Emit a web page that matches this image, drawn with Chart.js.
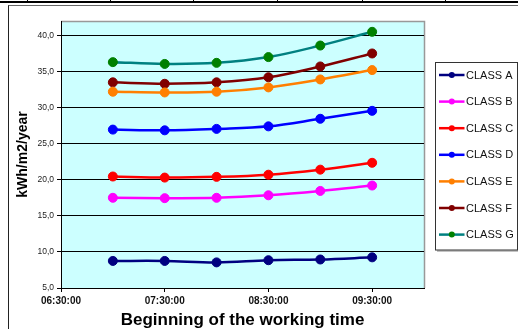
<!DOCTYPE html>
<html>
<head>
<meta charset="utf-8">
<script src="https://cdn.jsdelivr.net/npm/chart.js@4"></script>
<style>
  html, body { margin: 0; padding: 0; background: #fff; }
  #wrap { position: relative; width: 518px; height: 329px; overflow: hidden; }
  #topbar { position: absolute; left: 0; top: 1px; width: 518px; height: 2px; background: #000; }
  .sep { position: absolute; top: 0; width: 1px; height: 3px; background: #000; }
  #frame { position: absolute; left: 8px; top: 5px; width: 520px; height: 340px;
           border-left: 1px solid #222; border-top: 1px solid #666; box-sizing: border-box; }
  canvas { position: absolute; left: 0; top: 0; }
</style>
</head>
<body>
<div id="wrap">
  <div id="topbar"></div>
  <div class="sep" style="left:27px"></div>
  <div class="sep" style="left:110px"></div>
  <div class="sep" style="left:193px"></div>
  <div class="sep" style="left:277px"></div>
  <div class="sep" style="left:362px"></div>
  <div class="sep" style="left:445px"></div>
  <div id="frame"></div>
  <canvas id="chart" width="518" height="329"></canvas>
</div>
<script>
// Start times of the working day (x values)
const startTimes = ['07:00:00', '07:30:00', '08:00:00', '08:30:00', '09:00:00', '09:30:00'];
const xTickLabels = ['06:30:00', '07:30:00', '08:30:00', '09:30:00'];
const yTickValues = [5, 10, 15, 20, 25, 30, 35, 40];

// Energy demand per building class, kWh/m2/year
const classNames = ['CLASS A', 'CLASS B', 'CLASS C', 'CLASS D', 'CLASS E', 'CLASS F', 'CLASS G'];
const classA = [8.75, 8.75, 8.55, 8.85, 8.95, 9.25];
const classB = [17.5, 17.45, 17.5, 17.85, 18.45, 19.2];
const classC = [20.45, 20.3, 20.4, 20.7, 21.4, 22.35];
const classD = [26.95, 26.85, 27.05, 27.4, 28.45, 29.55];
const classE = [32.2, 32.1, 32.2, 32.8, 33.9, 35.2];
const classF = [33.5, 33.3, 33.5, 34.2, 35.7, 37.5];
const classG = [36.3, 36.05, 36.2, 37.0, 38.6, 40.5];

const lineColors = ['#000080', '#ff00ff', '#ff0000', '#0000ff', '#ff7f00', '#800000', '#008080'];
const markerColors = ['#000080', '#ff00ff', '#ff0000', '#0000ff', '#ff7f00', '#800000', '#008000'];

function toHours(t) {
  const p = t.split(':').map(Number);
  return p[0] + p[1] / 60 + (p[2] || 0) / 3600;
}

const seriesValues = [classA, classB, classC, classD, classE, classF, classG];
const xHours = startTimes.map(toHours);

const datasets = seriesValues.map((vals, i) => ({
  label: classNames[i],
  data: vals.map((v, j) => ({ x: xHours[j], y: v })),
  borderColor: lineColors[i],
  backgroundColor: markerColors[i],
  pointBackgroundColor: markerColors[i],
  pointBorderColor: markerColors[i],
  borderWidth: 2.5,
  pointRadius: 4.5,
  pointBorderWidth: 1,
  tension: 0.35,
  fill: false
}));

const FONT = "'Liberation Sans', Arial, sans-serif";

// Light cyan plot background with a grey frame on the top and right
const plotBackground = {
  id: 'plotBackground',
  beforeDraw(chart) {
    const { ctx, chartArea: a } = chart;
    ctx.save();
    ctx.fillStyle = '#ccffff';
    ctx.fillRect(a.left, a.top, a.right - a.left, a.bottom - a.top);
    ctx.strokeStyle = '#999';
    ctx.lineWidth = 1.5;
    ctx.beginPath();
    ctx.moveTo(a.left, a.top + 0.5);
    ctx.lineTo(a.right + 0.5, a.top + 0.5);
    ctx.lineTo(a.right + 0.5, a.bottom);
    ctx.stroke();
    ctx.restore();
  }
};

// Boxed legend on the right-hand side
const boxedLegend = {
  id: 'boxedLegend',
  afterDraw(chart) {
    const { ctx } = chart;
    const bx = 435.5, by = 62.5, bw = 82, bh = 187.5;
    ctx.save();
    ctx.fillStyle = '#fff';
    ctx.fillRect(bx, by, bw, bh);
    ctx.strokeStyle = '#888';
    ctx.lineWidth = 1;
    ctx.beginPath();
    ctx.moveTo(bx + 1.5, by + bh + 1);
    ctx.lineTo(bx + bw + 1, by + bh + 1);
    ctx.lineTo(bx + bw + 1, by + 1.5);
    ctx.stroke();
    ctx.strokeStyle = '#333';
    ctx.strokeRect(bx, by, bw, bh);
    chart.data.datasets.forEach((ds, i) => {
      const y = 75 + i * 26.6;
      ctx.strokeStyle = ds.borderColor;
      ctx.lineWidth = 2.5;
      ctx.beginPath();
      ctx.moveTo(439, y);
      ctx.lineTo(464.5, y);
      ctx.stroke();
      ctx.fillStyle = ds.pointBackgroundColor;
      ctx.beginPath();
      ctx.arc(451.8, y, 3, 0, Math.PI * 2);
      ctx.fill();
      ctx.fillStyle = '#111';
      ctx.font = '11px ' + FONT;
      ctx.textAlign = 'left';
      ctx.textBaseline = 'middle';
      ctx.fillText(ds.label, 466, y + 0.5);
    });
    ctx.restore();
  }
};

new Chart(document.getElementById('chart'), {
  type: 'line',
  data: { datasets },
  plugins: [plotBackground, boxedLegend],
  options: {
    responsive: false,
    animation: false,
    devicePixelRatio: 1,
    layout: { padding: { left: 0, top: 21, right: 94, bottom: 0 } },
    plugins: { legend: { display: false }, tooltip: { enabled: false } },
    scales: {
      x: {
        type: 'linear',
        min: toHours(xTickLabels[0]),
        max: 10,
        afterBuildTicks(scale) {
          scale.ticks = xTickLabels.map(t => ({ value: toHours(t) }));
        },
        afterFit(scale) { scale.height = 41; },
        ticks: {
          autoSkip: false,
          maxRotation: 0,
          padding: 3,
          color: '#111',
          font: { family: FONT, size: 10, weight: 'bold' },
          callback(value, index) { return xTickLabels[index]; }
        },
        grid: { drawOnChartArea: false, drawTicks: true, tickLength: 4, color: '#000' },
        border: { color: '#000', width: 1 },
        title: {
          display: true,
          text: 'Beginning of the working time',
          color: '#000',
          font: { family: FONT, size: 17, weight: 'bold', lineHeight: 1 },
          padding: { top: 0, bottom: 0.5 }
        }
      },
      y: {
        min: 5,
        max: 42,
        afterBuildTicks(scale) {
          scale.ticks = yTickValues.map(v => ({ value: v }));
        },
        afterFit(scale) { scale.width = 61; },
        ticks: {
          padding: 3,
          color: '#222',
          font: { family: FONT, size: 8.5 },
          callback(value) { return value.toFixed(1).replace('.', ','); }
        },
        grid: { color: '#000', lineWidth: 1, tickLength: 4 },
        border: { color: '#000', width: 1 },
        title: {
          display: true,
          text: 'kWh/m2/year',
          color: '#000',
          font: { family: FONT, size: 14, weight: 'bold', lineHeight: 1 },
          padding: { top: 16, bottom: 0 }
        }
      }
    }
  }
});
</script>
</body>
</html>
